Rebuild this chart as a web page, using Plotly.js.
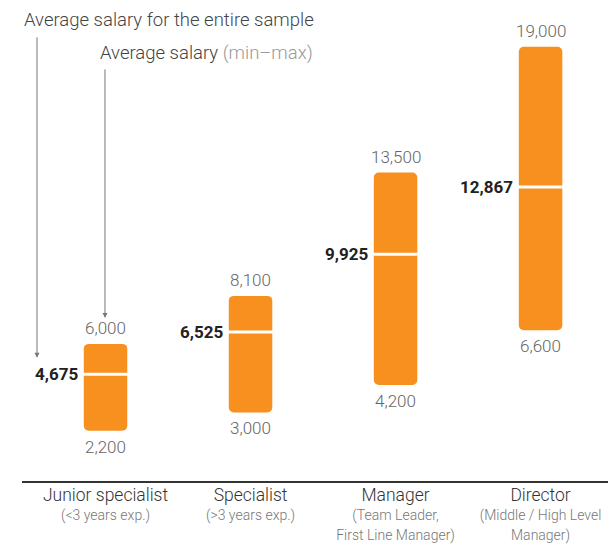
<!DOCTYPE html>
<html>
<head>
<meta charset="utf-8">
<script src="https://cdn.plot.ly/plotly-3.0.1.min.js"></script>
<style>html,body{margin:0;padding:0;background:#fff;}#chart{width:608px;height:544px;}</style>
</head>
<body>
<div id="chart"></div>
<script>
const categories = ['Junior specialist', 'Specialist', 'Manager', 'Director'];
const subLabels = ['(&lt;3 years exp.)', '(&gt;3 years exp.)', '(Team Leader,<br>First Line Manager)', '(Middle / High Level<br>Manager)'];
const minVals = [2200, 3000, 4200, 6600];
const maxVals = [6000, 8100, 13500, 19000];
const avgVals = [4675, 6525, 9925, 12867];

const xs = categories.map((c, i) => i);
const fmt = v => v.toLocaleString('en-US');
const ORANGE = '#F7901E';
const FONT = 'Roboto, "Open Sans", sans-serif';

const traces = [
  {
    type: 'bar', x: xs, y: maxVals.map((m, i) => m - minVals[i]), base: minVals,
    width: 0.3, marker: {color: ORANGE, cornerradius: 5, line: {width: 0}},
    hoverinfo: 'skip'
  },
  {
    type: 'scatter', mode: 'markers', x: xs, y: avgVals,
    marker: {symbol: 'line-ew', size: 44, line: {width: 3, color: '#ffffff'}},
    hoverinfo: 'skip'
  }
];

const annotations = [];
xs.forEach((x, i) => {
  annotations.push({x: x, y: maxVals[i], xref: 'x', yref: 'y', text: fmt(maxVals[i]), showarrow: false,
    yanchor: 'bottom', yshift: 4, font: {family: FONT, size: 17, weight: 300, color: '#666'}});
  annotations.push({x: x, y: minVals[i], xref: 'x', yref: 'y', text: fmt(minVals[i]), showarrow: false,
    yanchor: 'top', yshift: -4, font: {family: FONT, size: 17, weight: 300, color: '#666'}});
  annotations.push({x: x, y: avgVals[i], xref: 'x', yref: 'y', text: '<b>' + fmt(avgVals[i]) + '</b>', showarrow: false,
    xanchor: 'right', xshift: -26, font: {family: FONT, size: 17, color: '#222'}});
});

annotations.push({xref: 'paper', yref: 'paper', x: 0, y: 0.958, xanchor: 'left', yanchor: 'middle',
  text: 'Average salary for the entire sample', showarrow: false,
  font: {family: FONT, size: 18.5, weight: 300, color: '#444'}});
annotations.push({xref: 'paper', yref: 'paper', x: 0.1297, y: 0.89, xanchor: 'left', yanchor: 'middle',
  text: 'Average salary <span style="color:#999">(min–max)</span>', showarrow: false,
  font: {family: FONT, size: 18.5, weight: 300, color: '#444'}});
annotations.push({xref: 'paper', yref: 'paper', x: 0.0256, y: 0.256, text: '', showarrow: true,
  ax: 0, ay: -322, arrowhead: 2, arrowsize: 1, arrowwidth: 1, arrowcolor: '#777'});
annotations.push({xref: 'paper', yref: 'paper', x: 0.1416, y: 0.339, text: '', showarrow: true,
  ax: 0, ay: -250, arrowhead: 2, arrowsize: 1, arrowwidth: 1, arrowcolor: '#777'});

const layout = {
  width: 608, height: 544,
  margin: {l: 22, r: 0, t: 0, b: 63},
  paper_bgcolor: '#fff', plot_bgcolor: '#fff',
  showlegend: false,
  xaxis: {
    range: [-0.576, 3.465], tickvals: xs,
    ticktext: categories.map((c, i) => '<span style="font-size:17.5px">' + c + '</span><br><span style="font-size:14px;color:#777">' + subLabels[i] + '</span>'),
    showline: true, linecolor: '#333', linewidth: 1.5, ticks: '', showgrid: false, zeroline: false,
    tickfont: {family: FONT, size: 15, weight: 300, color: '#333'}, fixedrange: true
  },
  yaxis: {range: [0, 21050], visible: false, showgrid: false, zeroline: false, fixedrange: true},
  annotations: annotations
};

Plotly.newPlot('chart', traces, layout, {displayModeBar: false, staticPlot: true});
</script>
</body>
</html>
